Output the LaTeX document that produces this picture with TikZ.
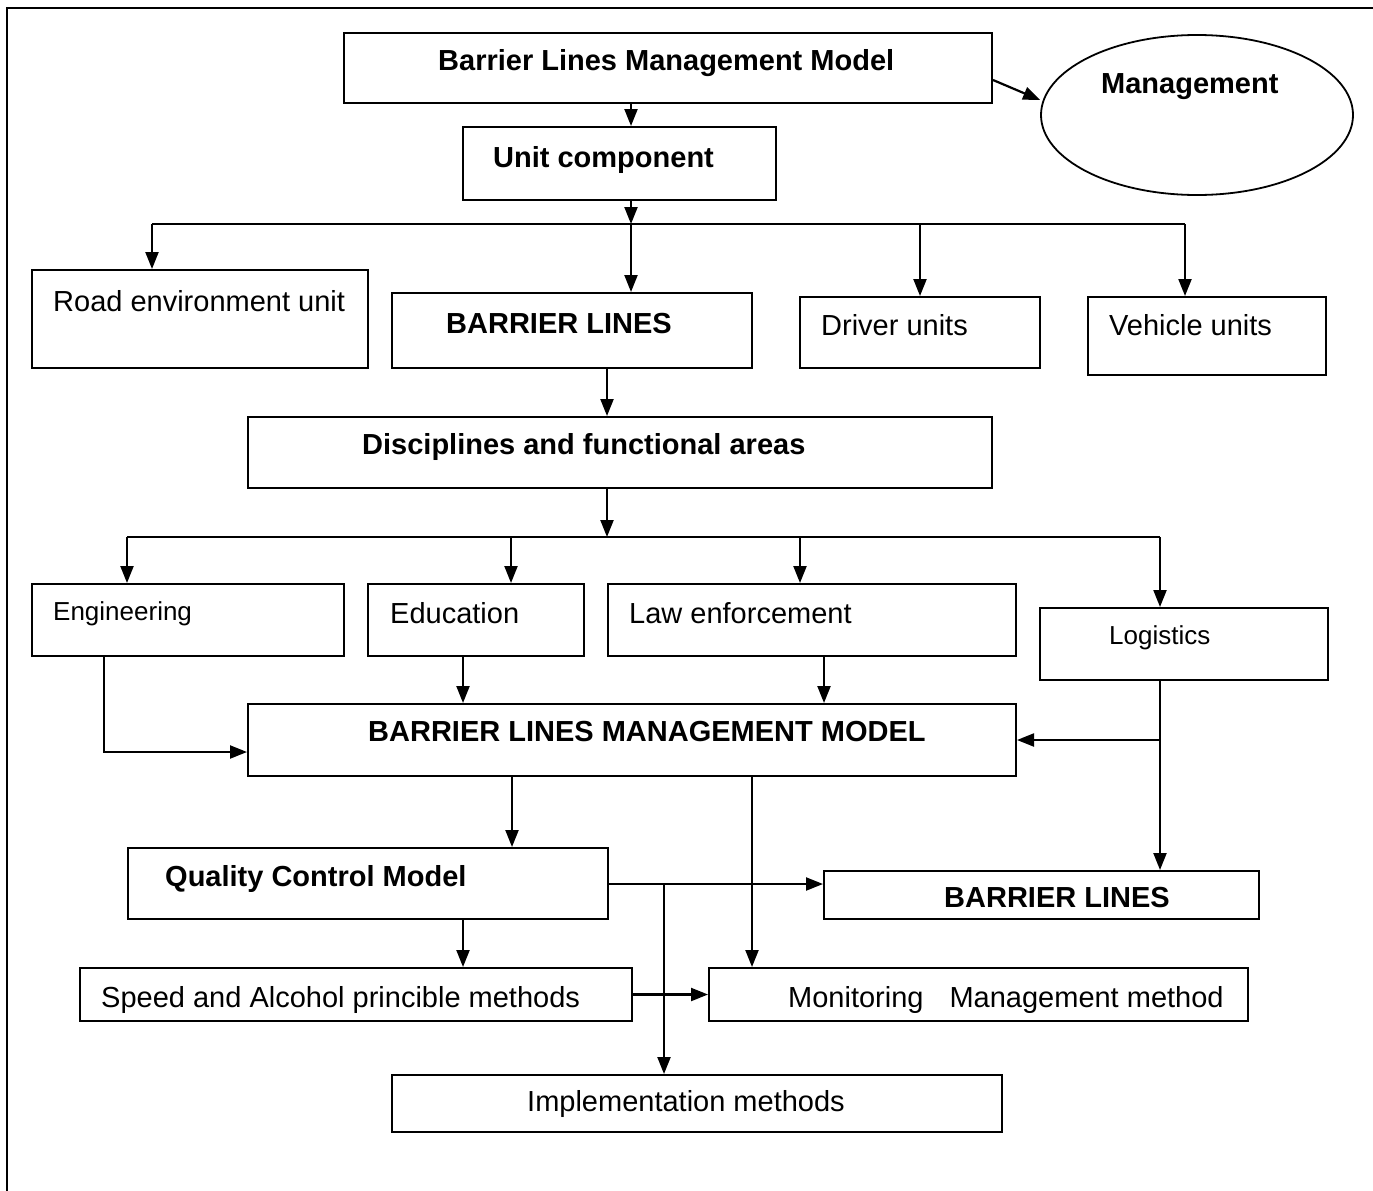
\documentclass[tikz,border=0pt]{standalone}
\usepackage{fontspec}
\setmainfont{Liberation Sans}
\usetikzlibrary{arrows.meta,fit,shapes.geometric}

\begin{document}
\begin{tikzpicture}[x=1pt,y=-1pt,
  box/.style={draw,line width=2pt,inner sep=0pt,rectangle},
  txt/.style={anchor=base west,inner sep=0pt,font=\fontsize{29}{34}\selectfont},
  btxt/.style={txt,font=\fontsize{29}{34}\selectfont\bfseries},
  stxt/.style={txt,font=\fontsize{26}{30}\selectfont},
  link/.style={line width=2.2pt},
  arr/.style={link,-{Triangle[length=17pt,width=13pt]}}]

\useasboundingbox (0,0) rectangle (1373,1191);

% outer frame (top and left edges)
\draw[line width=2.4pt] (7,1191) -- (7,8) -- (1373,8);

% boxes
\node[box,fit={(344,33)(992,103)}]    (A) {};
\node[draw,ellipse,line width=1.8pt,minimum width=312pt,minimum height=160pt,inner sep=0pt] (E) at (1197,115) {};
\node[box,fit={(463,127)(776,200)}]   (B) {};
\node[box,fit={(32,270)(368,368)}]    (C) {};
\node[box,fit={(392,293)(752,368)}]   (D) {};
\node[box,fit={(800,297)(1040,368)}]  (Drv) {};
\node[box,fit={(1088,297)(1326,375)}] (Veh) {};
\node[box,fit={(248,417)(992,488)}]   (G) {};
\node[box,fit={(32,584)(344,656)}]    (H) {};
\node[box,fit={(368,584)(584,656)}]   (I) {};
\node[box,fit={(608,584)(1016,656)}]  (J) {};
\node[box,fit={(1040,608)(1328,680)}] (K) {};
\node[box,fit={(248,704)(1016,776)}]  (L) {};
\node[box,fit={(128,848)(608,919)}]   (M) {};
\node[box,fit={(824,871)(1259,919)}]  (N) {};
\node[box,fit={(80,968)(632,1021)}]   (O) {};
\node[box,fit={(709,968)(1248,1021)}] (P) {};
\node[box,fit={(392,1075)(1002,1132)}] (Q) {};

% labels
\node[btxt] (At)   at (438,70)   {Barrier Lines Management Model};
\node[btxt] (Et)   at (1101,93)  {Management};
\node[btxt] (Bt)   at (493,167)  {Unit component};
\node[txt]  (Ct)   at (53,311)   {Road environment unit};
\node[btxt] (Dt)   at (446,333)  {BARRIER LINES};
\node[txt]  (Drvt) at (821,335)  {Driver units};
\node[txt]  (Veht) at (1109,335) {Vehicle units};
\node[btxt] (Gt)   at (362,454)  {Disciplines and functional areas};
\node[stxt] (Ht)   at (53,620)   {Engineering};
\node[txt]  (It)   at (390,623)  {Education};
\node[txt]  (Jt)   at (629,623)  {Law enforcement};
\node[stxt] (Kt)   at (1109,644) {Logistics};
\node[btxt] (Lt)   at (368,741)  {BARRIER LINES MANAGEMENT MODEL};
\node[btxt] (Mt)   at (165,886)  {Quality Control Model};
\node[btxt] (Nt)   at (944,907)  {BARRIER LINES};
\node[txt]  (Ot)   at (101,1007) {Speed and Alcohol princible methods};
\node[txt]  (Pt)   at (788,1007) {Monitoring\hspace{26pt}Management method};
\node[txt]  (Qt)   at (527,1111) {Implementation methods};

% junction points
\coordinate (j1)  at (631,224);
\coordinate (jL)  at (152,224);
\coordinate (jD)  at (920,224);
\coordinate (jR)  at (1185,224);
\coordinate (j2)  at (607,537);
\coordinate (kL)  at (127,537);
\coordinate (kI)  at (511,537);
\coordinate (kJ)  at (800,537);
\coordinate (kR)  at (1160,537);
\coordinate (kb)  at (1160,740);
\coordinate (mb)  at (664,884);

% connectors
\draw[arr] ([yshift=-12pt]A.east) -- ([yshift=15pt]E.west);
\draw[arr] (A.south -| 631,0) -- (B.north -| 631,0);
\draw[arr] (B.south -| j1) -- (j1);
\draw[link] (jL) -- (jR);
\draw[arr] (jL) -- (C.north -| jL);
\draw[arr] (j1) -- (D.north -| j1);
\draw[arr] (jD) -- (Drv.north -| jD);
\draw[arr] (jR) -- (Veh.north -| jR);

\draw[arr] (D.south -| j2) -- (G.north -| j2);
\draw[arr] (G.south -| j2) -- (j2);
\draw[link] (kL) -- (kR);
\draw[arr] (kL) -- (H.north -| kL);
\draw[arr] (kI) -- (I.north -| kI);
\draw[arr] (kJ) -- (J.north -| kJ);
\draw[arr] (kR) -- (K.north -| kR);

\draw[arr] (H.south -| 104,0) |- (L.west |- 0,752);
\draw[arr] (I.south -| 463,0) -- (L.north -| 463,0);
\draw[arr] (J.south -| 824,0) -- (L.north -| 824,0);
\draw[arr] (K.south -| kb) -- (N.north -| kb);
\draw[arr] (kb) -- (L.east |- kb);

\draw[arr] (L.south -| 512,0) -- (M.north -| 512,0);
\draw[arr] (L.south -| 752,0) -- (P.north -| 752,0);
\draw[arr] (M.east |- mb) -- (N.west |- mb);
\draw[arr] (mb) -- (Q.north -| mb);
\draw[arr] (M.south -| 463,0) -- (O.north -| 463,0);
\draw[arr] (O.east) -- (P.west);

\end{tikzpicture}
\end{document}
